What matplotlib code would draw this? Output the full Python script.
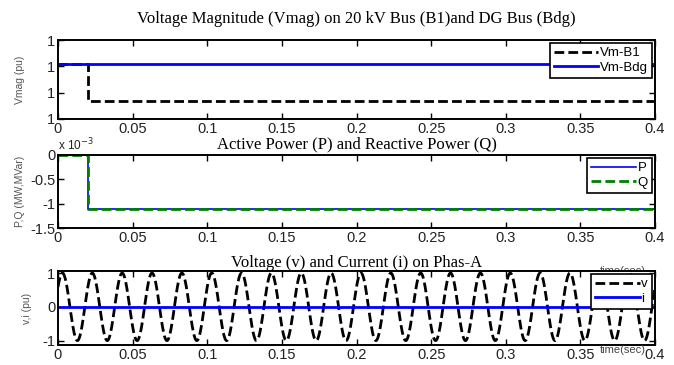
import numpy as np
import matplotlib
matplotlib.use('Agg')
import matplotlib.pyplot as plt
from matplotlib.ticker import FuncFormatter

plt.rcParams['axes.unicode_minus'] = False
plt.rcParams['font.family'] = 'Liberation Sans'

# values
t_step = [0, 0.02, 0.4]
vm_b1 = [0.99991, 0.99977, 0.99977]
vm_bdg = [0.99991, 0.99991, 0.99991]
p_mw = [0, -1.1e-3, -1.1e-3]
q_mvar = [0, -1.1e-3, -1.1e-3]

# phase-A voltage: 50 Hz sinusoid, amplitude 1 pu, first peak near 3 ms
v_amp = 1.0
v_freq = 50
v_peak_t = 0.003
t_i = [0, 0.4]
i_pu = [0, 0]

x_ticks = [0, 0.05, 0.1, 0.15, 0.2, 0.25, 0.3, 0.35, 0.4]
vm_ticks = [0.9997, 0.9998, 0.9999, 1.0]
pq_ticks = [-1.5e-3, -1e-3, -0.5e-3, 0]
vi_ticks = [-1, 0, 1]

t_wave = np.linspace(0, 0.4, 4001)
v_pu = v_amp * np.cos(2 * np.pi * v_freq * (t_wave - v_peak_t))

W, H = 674, 365
fig = plt.figure(figsize=(W / 100, H / 100), dpi=100)

def px_rect(left, top, right, bottom):
    return [left / W, 1 - bottom / H, (right - left) / W, (bottom - top) / H]

def style(ax):
    ax.set_xlim(0, 0.4)
    ax.set_xticks(x_ticks)
    ax.xaxis.set_major_formatter(FuncFormatter(lambda x, p: '%g' % round(x, 3)))
    ax.tick_params(direction='in', top=True, right=True, length=4, width=1,
                   labelsize=10.5, labelcolor='#222222', pad=2)
    for s in ax.spines.values():
        s.set_linewidth(1.4)
        s.set_color('black')

def legend(ax):
    lg = ax.legend(loc='upper right', fontsize=9.5, fancybox=False, framealpha=1,
                   edgecolor='black', handlelength=3.4, handletextpad=0.1,
                   borderpad=0.3, labelspacing=0.15, borderaxespad=0.25,
                   markerfirst=True)
    lg.get_frame().set_linewidth(1.2)
    return lg

title_font = {'family': 'Liberation Serif', 'size': 12}

# panel 1
ax1 = fig.add_axes(px_rect(58, 40, 655, 119))
ax1.plot(t_step, vm_b1, color='black', ls='--', dashes=(3.5, 1.5), lw=2,
         drawstyle='steps-post', label='Vm-B1')
ax1.plot(t_step, vm_bdg, color='blue', lw=2, drawstyle='steps-post', label='Vm-Bdg')
style(ax1)
ax1.set_ylim(0.9997, 1.0)
ax1.set_yticks(vm_ticks)
ax1.yaxis.set_major_formatter(FuncFormatter(lambda y, p: '%.0f' % y))
ax1.set_title('Voltage Magnitude (Vmag) on 20 kV Bus (B1)and DG Bus (Bdg)',
              fontdict=title_font, pad=12)
ax1.set_ylabel('Vmag (pu)', fontsize=7.5, color='#555555')
ax1.yaxis.set_label_coords(-0.055, 0.5)
legend(ax1)

# panel 2
ax2 = fig.add_axes(px_rect(58, 155, 655, 228))
ax2.plot(t_step, p_mw, color='blue', lw=1.2, drawstyle='steps-post', label='P')
ax2.plot(t_step, q_mvar, color='#008000', ls='--', dashes=(3.5, 1.5), lw=2,
         drawstyle='steps-post', label='Q')
style(ax2)
ax2.set_ylim(-1.5e-3, 0)
ax2.set_yticks(pq_ticks)
ax2.yaxis.set_major_formatter(FuncFormatter(lambda y, p: '%g' % round(y * 1e3, 2)))
ax2.set_title('Active Power (P) and Reactive Power (Q)', fontdict=title_font, pad=5)
ax2.set_ylabel('P,Q (MW,MVar)', fontsize=7.5, color='#555555')
ax2.yaxis.set_label_coords(-0.055, 0.5)
ax2.text(0.0, 1.02, 'x 10$^{-3}$', transform=ax2.transAxes, fontsize=8.5,
         color='#222222', ha='left', va='bottom')
legend(ax2)

# panel 3
ax3 = fig.add_axes(px_rect(58, 271, 655, 345))
ax3.plot(t_wave, v_pu, color='black', ls='--', dashes=(3.5, 1.5), lw=2, label='v')
ax3.plot(t_i, i_pu, color='blue', lw=2, label='i')
style(ax3)
ax3.set_ylim(-1.13, 1.06)
ax3.set_yticks(vi_ticks)
ax3.set_title('Voltage (v) and Current (i) on Phas-A', fontdict=title_font, pad=3)
ax3.set_ylabel('v,i (pu)', fontsize=7.5, color='#555555')
ax3.yaxis.set_label_coords(-0.044, 0.5)
legend(ax3)

# stray x-axis labels, one partly hidden behind the bottom panel
fig.text(623 / W, 1 - 271 / H, 'time(sec)', fontsize=8, color='#444444',
         ha='center', va='center', zorder=-1)
fig.text(623 / W, 1 - 350 / H, 'time(sec)', fontsize=8, color='#444444',
         ha='center', va='center')

fig.savefig('out.png', dpi=100)
